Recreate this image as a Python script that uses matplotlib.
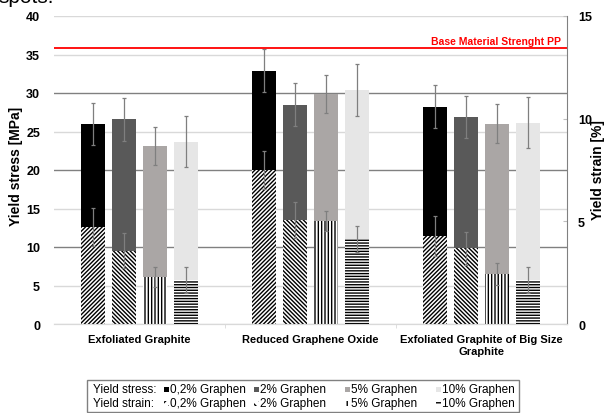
import matplotlib
matplotlib.use("Agg")
import matplotlib.pyplot as plt
import numpy as np
from matplotlib.patches import Rectangle

plt.rcParams['font.family'] = ['Liberation Sans', 'DejaVu Sans']
plt.rcParams['hatch.linewidth'] = 1.0

categories = ["Exfoliated Graphite", "Reduced Graphene Oxide",
              "Exfoliated Graphite of Big Size\nGraphite"]
series = ["0,2% Graphen", "2% Graphen", "5% Graphen", "10% Graphen"]

stress = [[26.0, 26.6, 23.1, 23.7],
          [32.9, 28.5, 29.9, 30.4],
          [28.2, 26.9, 26.0, 26.15]]
stress_err = [[2.7, 2.8, 2.45, 3.35],
              [2.75, 2.8, 2.5, 3.4],
              [2.8, 2.7, 2.55, 3.35]]
strain = [[4.74, 3.57, 2.30, 2.14],
          [7.50, 5.08, 5.03, 4.14],
          [4.27, 3.69, 2.44, 2.14]]
strain_err = [[0.93, 0.84, 0.50, 0.64],
              [0.92, 0.88, 0.49, 0.61],
              [0.97, 0.81, 0.52, 0.62]]
base_pp = 35.9
base_label = "Base Material Strenght PP"

stress_colors = ["#000000", "#595959", "#aaa6a5", "#e6e6e6"]
hatches = ["////////", "\\" * 8, "|||||", "------"]
legend_hatches = ["////", "\\" * 4, "|||", "---"]

stress = np.array(stress); stress_err = np.array(stress_err)
strain = np.array(strain); strain_err = np.array(strain_err)

fig = plt.figure(figsize=(6.06, 4.14), dpi=100)
ax = fig.add_axes([54/606, 1-325/414, (567-54)/606, (325-17)/414])
ax2 = ax.twinx()

x = np.arange(len(categories))
step = 0.1813
width = 0.146
offsets = (np.arange(4) - 1.5) * step

for i in range(4):
    ax.bar(x + offsets[i], stress[:, i], width, color=stress_colors[i], zorder=2, linewidth=0)
    ax.errorbar(x + offsets[i], stress[:, i], yerr=stress_err[:, i], fmt='none',
                ecolor='#7f7f7f', elinewidth=0.9, capsize=1.6, capthick=0.9, zorder=3)
    ax2.bar(x + offsets[i], strain[:, i], width, color='white', edgecolor='black',
            hatch=hatches[i], linewidth=0, zorder=2)
    ax2.errorbar(x + offsets[i], strain[:, i], yerr=strain_err[:, i], fmt='none',
                 ecolor='#7f7f7f', elinewidth=0.9, capsize=1.6, capthick=0.9, zorder=3)

ax.set_xlim(-0.5, 2.5)
ax.set_ylim(0, 40)
ax2.set_ylim(0, 15)
yt = np.arange(0, 41, 5)
ax.set_yticks(yt)
ax.grid(axis='y', zorder=0)
for gl, v in zip(ax.get_ygridlines(), yt):
    if v in (10, 20, 30):
        gl.set_color('#808080')
    else:
        gl.set_color('#d9d9d9')
    gl.set_linewidth(1.0)
ax.set_axisbelow(True)

ax.axhline(base_pp, color='#ff0000', lw=1.3, zorder=4)
ax.text(2.465, 36.75, base_label, color='#ff0000', fontsize=7.5, fontweight='bold',
        ha='right', va='center')

ax.set_xticks(x)
ax.set_xticklabels(categories, fontsize=8, fontweight='bold', linespacing=1.25)
ax.tick_params(axis='x', which='major', length=0, pad=7)
ax.set_xticks([0.5, 1.5], minor=True)
ax.tick_params(axis='x', which='minor', length=3, color='#d9d9d9', direction='out')

ax.tick_params(axis='y', length=0, labelsize=9, pad=10)
for t in ax.get_yticklabels():
    t.set_fontweight('bold')
ax2.set_yticks([0, 5, 10, 15])
ax2.tick_params(axis='y', length=3, direction='in', color='#bfbfbf', labelsize=9, pad=8)
for t in ax2.get_yticklabels():
    t.set_fontweight('bold')

for a in (ax, ax2):
    a.spines['top'].set_visible(False)
    a.spines['left'].set_visible(False)
    a.spines['bottom'].set_color('#d9d9d9')
ax.spines['right'].set_visible(False)
ax2.spines['right'].set_color('#808080')

fig.text(16/606, 1-166/414, "Yield stress [MPa]", rotation=90, fontsize=10,
         fontweight='bold', ha='center', va='center')
fig.text(598/606, 1-170/414, "Yield strain [%]", rotation=90, fontsize=10,
         fontweight='bold', ha='center', va='center')

fig.text(-2/606, 1-3/414, "spots.", fontsize=15, ha='left', va='baseline')

# legend
W, H = 606, 414
fig.add_artist(Rectangle((87/W, 1-413/H), (519-87)/W, (413-381)/H, transform=fig.transFigure,
                         facecolor='white', edgecolor='#808080', lw=1.0))
row_y = [390, 404]
row_titles = ["Yield stress:", "Yield strain:"]
marker_x = [166, 256, 347, 438]
for r in range(2):
    fig.text(93/W, 1-row_y[r]/H, row_titles[r], fontsize=8.5, ha='left', va='center')
    for i in range(4):
        mx = marker_x[i]
        s = 5
        if r == 0:
            p = Rectangle(((mx-s/2)/W, 1-(row_y[r]+s/2)/H), s/W, s/H, transform=fig.transFigure,
                          facecolor=stress_colors[i], edgecolor='none', lw=0)
        else:
            p = Rectangle(((mx-s/2)/W, 1-(row_y[r]+s/2)/H), s/W, s/H, transform=fig.transFigure,
                          facecolor='white', edgecolor='#000000', hatch=legend_hatches[i], lw=0)
        fig.add_artist(p)
        fig.text((mx+4)/W, 1-row_y[r]/H, series[i], fontsize=8.5, ha='left', va='center')

fig.savefig("out.png", dpi=100)
